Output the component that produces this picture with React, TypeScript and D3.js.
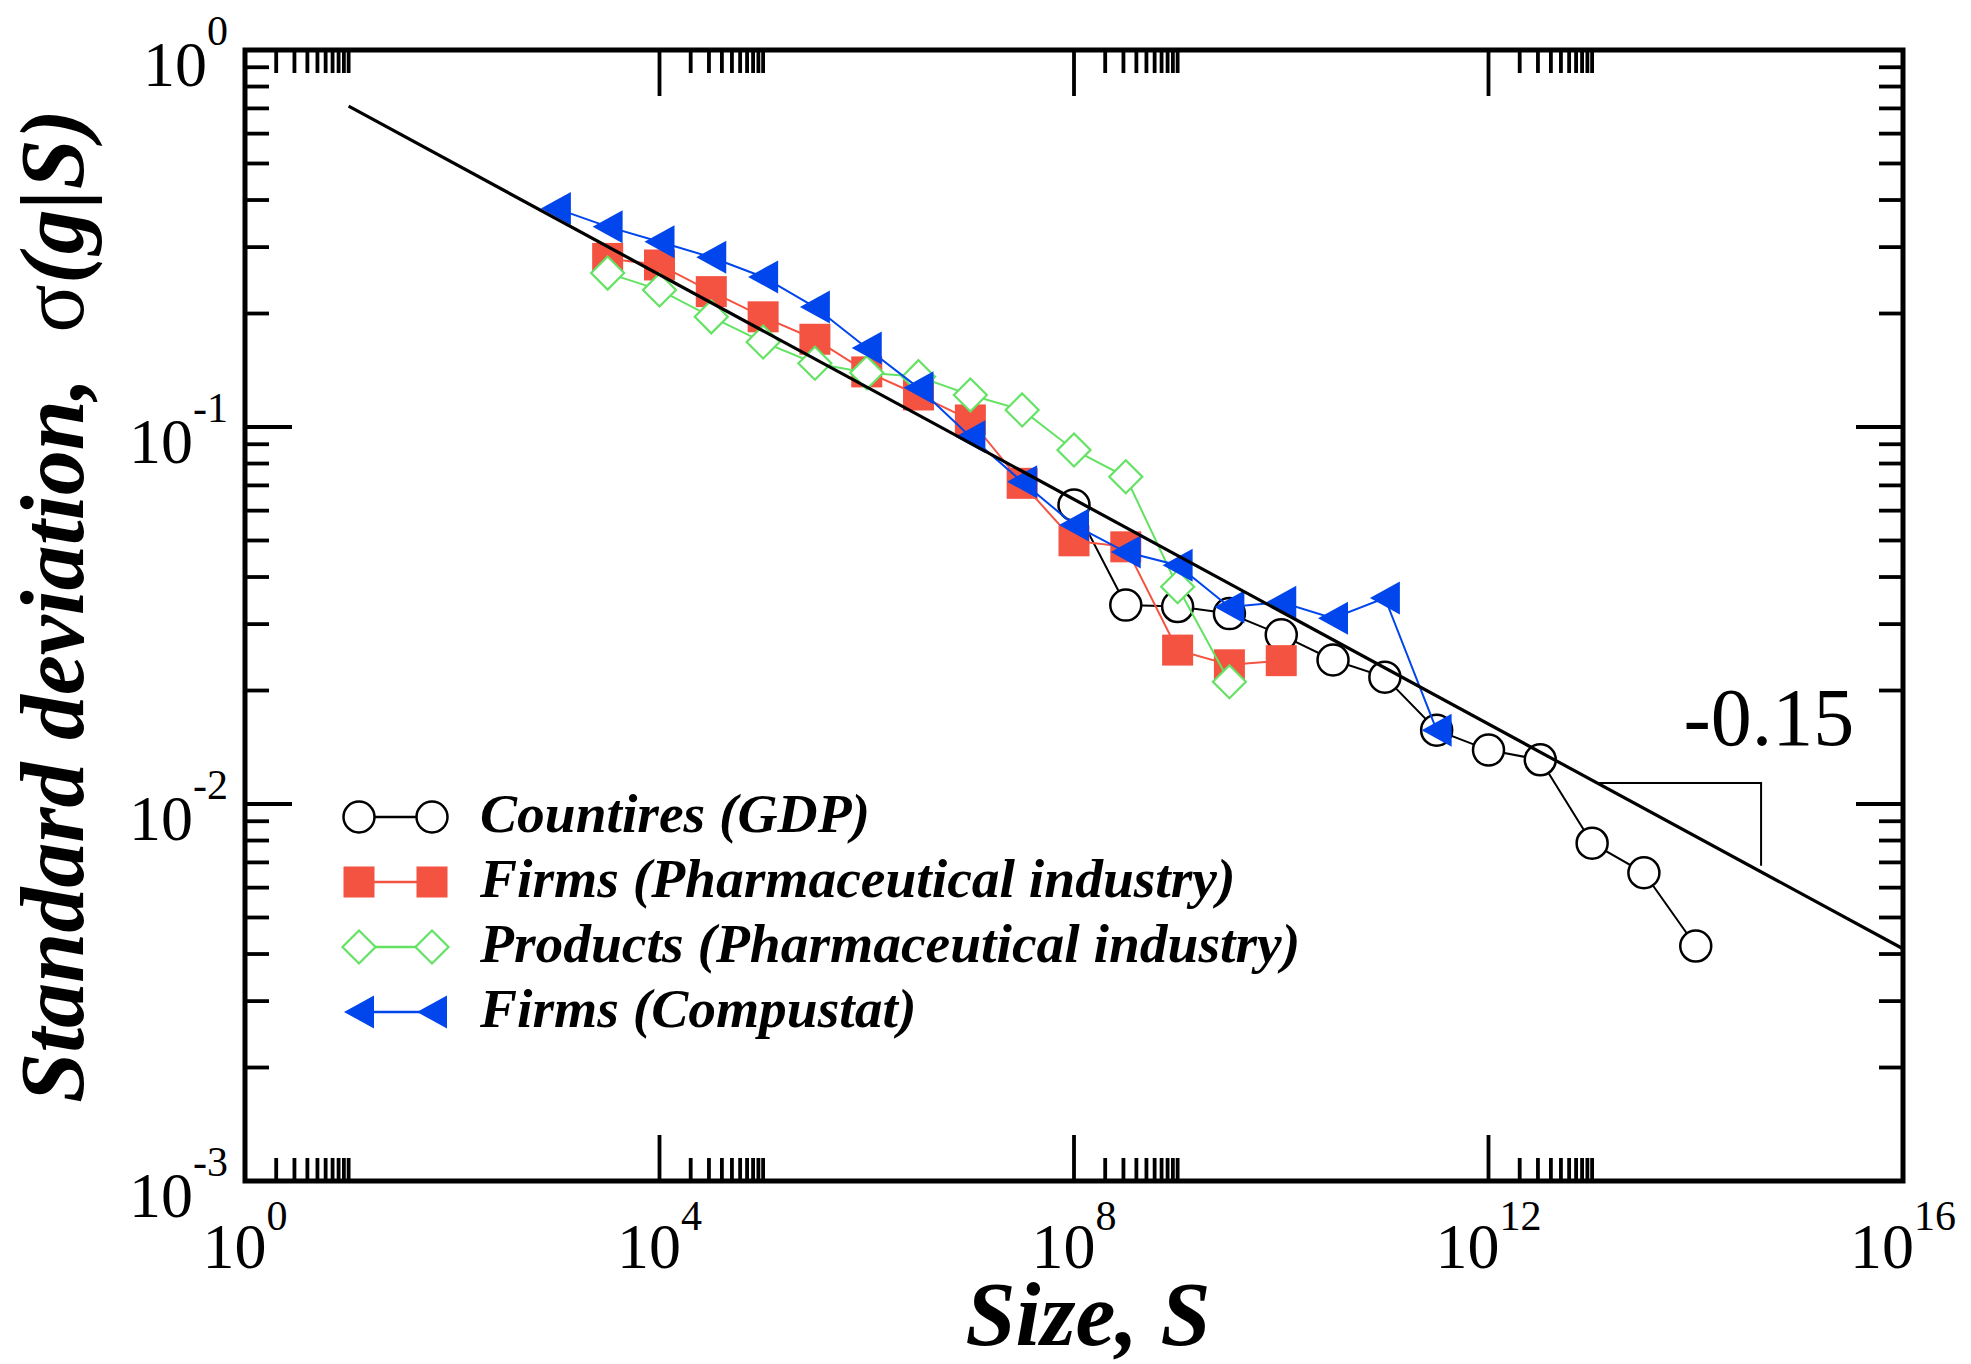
import React from 'react';
import * as d3 from 'd3';

const W = 1971;
const H = 1364;
const plot = { left: 245, right: 1903, top: 50, bottom: 1181 };

// Countries (GDP)
const countriesS = [1e8, 3.16e8, 1e9, 3.16e9, 1e10, 3.16e10, 1e11, 3.16e11, 1e12, 3.16e12, 1e13, 3.16e13, 1e14];
const countriesSigma = [0.0621, 0.0337, 0.0334, 0.032, 0.0281, 0.0241, 0.0217, 0.0157, 0.0139, 0.0131, 0.00787, 0.00657, 0.0042];

// Firms (Pharmaceutical industry)
const pharmaS = [3.16e3, 1e4, 3.16e4, 1e5, 3.16e5, 1e6, 3.16e6, 1e7, 3.16e7, 1e8, 3.16e8, 1e9, 3.16e9, 1e10];
const pharmaSigma = [0.28, 0.269, 0.2286, 0.196, 0.1709, 0.14, 0.1216, 0.1044, 0.0709, 0.0499, 0.0481, 0.0256, 0.0234, 0.024];

// Products (Pharmaceutical industry)
const productsS = [3.16e3, 1e4, 3.16e4, 1e5, 3.16e5, 1e6, 3.16e6, 1e7, 3.16e7, 1e8, 3.16e8, 1e9, 3.16e9];
const productsSigma = [0.256, 0.231, 0.196, 0.168, 0.1476, 0.1393, 0.136, 0.1216, 0.111, 0.0869, 0.0738, 0.0377, 0.0211];

// Firms (Compustat)
const compustatS = [1e3, 3.16e3, 1e4, 3.16e4, 1e5, 3.16e5, 1e6, 3.16e6, 1e7, 3.16e7, 1e8, 3.16e8, 1e9, 3.16e9, 1e10, 3.16e10, 1e11, 3.16e11];
const compustatSigma = [0.38, 0.34, 0.31, 0.282, 0.25, 0.208, 0.162, 0.127, 0.0942, 0.0716, 0.055, 0.0466, 0.043, 0.0333, 0.0343, 0.0311, 0.0352, 0.0157];

// power-law fit sigma = A * S^beta
const fitA = 1.0;
const fitBeta = -0.149;
const fitRange = [1e1, 1e16];
const slopeLabel = '-0.15';
const slopeTri = [1.12e13, 4.27e14];

const xMajorExp = [0, 4, 8, 12, 16];
const xMinorBaseExp = [0, 4, 8, 12];
const xMinorMult = [2, 3, 4, 5, 6, 7, 8, 9, 10];
const yMajorExp = [0, -1, -2, -3];
const yMinorBaseExp = [-1, -2, -3];
const yMinorMult = [2, 3, 4, 5, 6, 7, 8, 9];

const legendLabels = [
  'Countires (GDP)',
  'Firms (Pharmaceutical industry)',
  'Products (Pharmaceutical industry)',
  'Firms (Compustat)',
];

const RED = '#f45341';
const GREEN = '#63e263';
const BLUE = '#0046ec';
const FONT = '"Liberation Serif", "Times New Roman", serif';

const x = d3.scaleLog().domain([1, 1e16]).range([plot.left, plot.right]);
const y = d3.scaleLog().domain([1e-3, 1]).range([plot.bottom, plot.top]);

type Kind = 'circle' | 'square' | 'diamond' | 'triangle';

function Marker({ kind, cx, cy }: { kind: Kind; cx: number; cy: number }) {
  if (kind === 'circle')
    return <circle cx={cx} cy={cy} r={15.5} fill="#fff" stroke="#000" strokeWidth={2.5} />;
  if (kind === 'square')
    return <rect x={cx - 15.5} y={cy - 15.5} width={31} height={31} fill={RED} />;
  if (kind === 'diamond')
    return (
      <path
        d={`M${cx},${cy - 16.5}L${cx + 16.5},${cy}L${cx},${cy + 16.5}L${cx - 16.5},${cy}Z`}
        fill="#fff"
        stroke={GREEN}
        strokeWidth={2.2}
      />
    );
  return <path d={`M${cx - 15},${cy}L${cx + 15},${cy - 16.5}L${cx + 15},${cy + 16.5}Z`} fill={BLUE} />;
}

const series: { s: number[]; v: number[]; kind: Kind; color: string }[] = [
  { s: countriesS, v: countriesSigma, kind: 'circle', color: '#000' },
  { s: pharmaS, v: pharmaSigma, kind: 'square', color: RED },
  { s: productsS, v: productsSigma, kind: 'diamond', color: GREEN },
  { s: compustatS, v: compustatSigma, kind: 'triangle', color: BLUE },
];

const line = d3
  .line<[number, number]>()
  .x((d) => x(d[0]))
  .y((d) => y(d[1]));

const fit = (s: number) => fitA * Math.pow(s, fitBeta);

export default function App() {
  const xMinor = xMinorBaseExp.flatMap((e) => xMinorMult.map((k) => k * Math.pow(10, e)));
  const yMinor = yMinorBaseExp.flatMap((e) => yMinorMult.map((k) => k * Math.pow(10, e)));

  const triY = y(fit(slopeTri[0]));
  const triX0 = x(slopeTri[0]);
  const triX1 = x(slopeTri[1]);
  const triYEnd = y(fit(slopeTri[1])) - 6;

  const legendY0 = 817;
  const legendDy = 65;

  return (
    <svg
      width={W}
      height={H}
      style={{ position: 'absolute', left: 0, top: 0, background: '#fff' }}
      fontFamily={FONT}
    >
      <rect width={W} height={H} fill="#fff" />

      {/* ticks */}
      <g stroke="#000" strokeWidth={3.8}>
        {xMajorExp.map((e) => (
          <g key={'xm' + e}>
            <line x1={x(Math.pow(10, e))} x2={x(Math.pow(10, e))} y1={plot.bottom} y2={plot.bottom - 46} />
            <line x1={x(Math.pow(10, e))} x2={x(Math.pow(10, e))} y1={plot.top} y2={plot.top + 46} />
          </g>
        ))}
        {xMinor.map((v, i) => (
          <g key={'xn' + i}>
            <line x1={x(v)} x2={x(v)} y1={plot.bottom} y2={plot.bottom - 23} />
            <line x1={x(v)} x2={x(v)} y1={plot.top} y2={plot.top + 23} />
          </g>
        ))}
        {yMajorExp.map((e) => (
          <g key={'ym' + e}>
            <line y1={y(Math.pow(10, e))} y2={y(Math.pow(10, e))} x1={plot.left} x2={plot.left + 47} />
            <line y1={y(Math.pow(10, e))} y2={y(Math.pow(10, e))} x1={plot.right} x2={plot.right - 47} />
          </g>
        ))}
        {yMinor.map((v, i) => (
          <g key={'yn' + i}>
            <line y1={y(v)} y2={y(v)} x1={plot.left} x2={plot.left + 24} />
            <line y1={y(v)} y2={y(v)} x1={plot.right} x2={plot.right - 24} />
          </g>
        ))}
      </g>

      {/* tick labels */}
      {xMajorExp.map((e) => (
        <text key={'xl' + e} x={x(Math.pow(10, e))} y={plot.bottom + 87} fontSize={64} textAnchor="middle">
          10
          <tspan fontSize={42} dy={-38}>
            {e}
          </tspan>
        </text>
      ))}
      {yMajorExp.map((e) => (
        <text key={'yl' + e} x={228} y={y(Math.pow(10, e)) + 36} fontSize={64} textAnchor="end">
          10
          <tspan fontSize={42} dy={-41}>
            {e === 0 ? '0' : '-' + Math.abs(e)}
          </tspan>
        </text>
      ))}

      {/* data series */}
      {series.map((sr, i) => {
        const pts = sr.s.map((s, j) => [s, sr.v[j]] as [number, number]);
        return (
          <g key={'s' + i}>
            <path d={line(pts) || ''} fill="none" stroke={sr.color} strokeWidth={2} />
            {pts.map((p, j) => (
              <Marker key={j} kind={sr.kind} cx={x(p[0])} cy={y(p[1])} />
            ))}
          </g>
        );
      })}

      {/* fit line */}
      <path
        d={line(fitRange.map((s) => [s, fit(s)] as [number, number])) || ''}
        fill="none"
        stroke="#000"
        strokeWidth={3.2}
      />
      <path
        d={`M${triX0},${triY}H${triX1}V${triYEnd}`}
        fill="none"
        stroke="#000"
        strokeWidth={2}
      />
      <text x={x(7.6e13)} y={y(0.01434)} fontSize={82}>
        {slopeLabel}
      </text>

      {/* legend */}
      {series.map((sr, i) => {
        const cy = legendY0 + i * legendDy;
        return (
          <g key={'lg' + i}>
            <line x1={359} x2={432} y1={cy} y2={cy} stroke={sr.color} strokeWidth={2.5} />
            <Marker kind={sr.kind} cx={359} cy={cy} />
            <Marker kind={sr.kind} cx={432} cy={cy} />
            <text x={480} y={cy + 15} fontSize={55.5} fontWeight="bold" fontStyle="italic">
              {legendLabels[i]}
            </text>
          </g>
        );
      })}

      {/* frame */}
      <rect
        x={plot.left}
        y={plot.top}
        width={plot.right - plot.left}
        height={plot.bottom - plot.top}
        fill="none"
        stroke="#000"
        strokeWidth={5}
      />

      {/* axis titles */}
      <text x={1088} y={1345} fontSize={90} fontWeight="bold" fontStyle="italic" textAnchor="middle">
        Size, S
      </text>
      <text
        transform="translate(83,606) rotate(-90)"
        fontSize={90}
        fontWeight="bold"
        fontStyle="italic"
        textAnchor="middle"
      >
        {'Standard deviation,\u00a0\u00a0'}
        <tspan fontWeight="normal" fontStyle="normal">
          σ
        </tspan>
        (g|S)
      </text>
    </svg>
  );
}
